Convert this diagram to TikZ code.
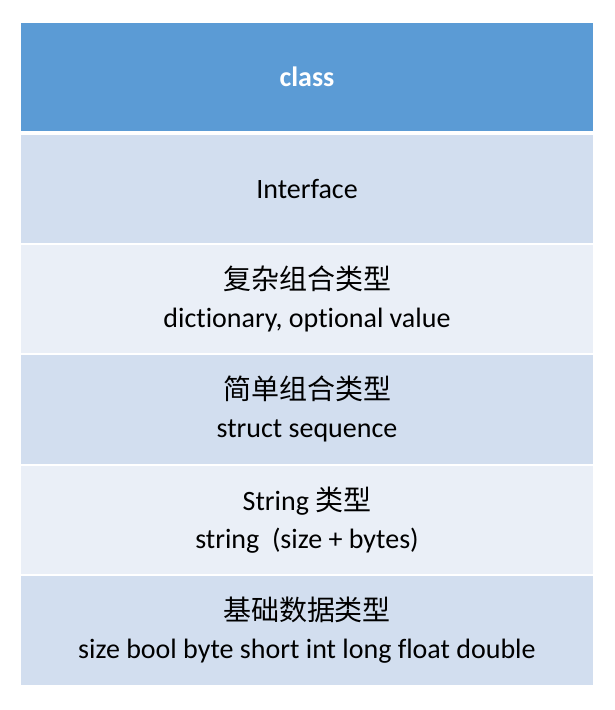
\documentclass[tikz,border=0pt]{standalone}
\usepackage{fontspec}
\setmainfont[Ligatures=NoCommon]{Carlito}
\newfontfamily\cjk{Noto Sans CJK SC}
\definecolor{headblue}{HTML}{5B9BD5}
\definecolor{rowdark}{HTML}{D2DEEF}
\definecolor{rowlight}{HTML}{EAEFF7}
\tikzset{
  celltext/.style={align=center,font=\fontsize{28}{38}\selectfont,text=black},
}
\begin{document}
\begin{tikzpicture}[x=1pt,y=-1pt]
\useasboundingbox (0,0) rectangle (614,710);
% header
\fill[headblue] (21,23) rectangle (593,131);
\node[celltext,text=white,font=\fontsize{28}{38}\selectfont\bfseries] (cls) at (307,77) {class};
% rows
\fill[rowdark] (21,135) rectangle (593,243);
\node[celltext] (iface) at (307,189) {Interface};
\fill[rowlight] (21,245) rectangle (593,353);
\node[celltext] (complex) at (307,299) {{\cjk 复杂组合类型}\\dictionary, optional value};
\fill[rowdark] (21,355) rectangle (593,464);
\node[celltext] (simple) at (307,409) {{\cjk 简单组合类型}\\struct sequence};
\fill[rowlight] (21,466) rectangle (593,574);
\node[celltext] (str) at (307,520) {String {\cjk 类型}\\string\ \ (size + bytes)};
\fill[rowdark] (21,576) rectangle (593,685);
\node[celltext] (basic) at (307,630) {{\cjk 基础数据类型}\\size bool byte short int long float double};
\end{tikzpicture}
\end{document}
